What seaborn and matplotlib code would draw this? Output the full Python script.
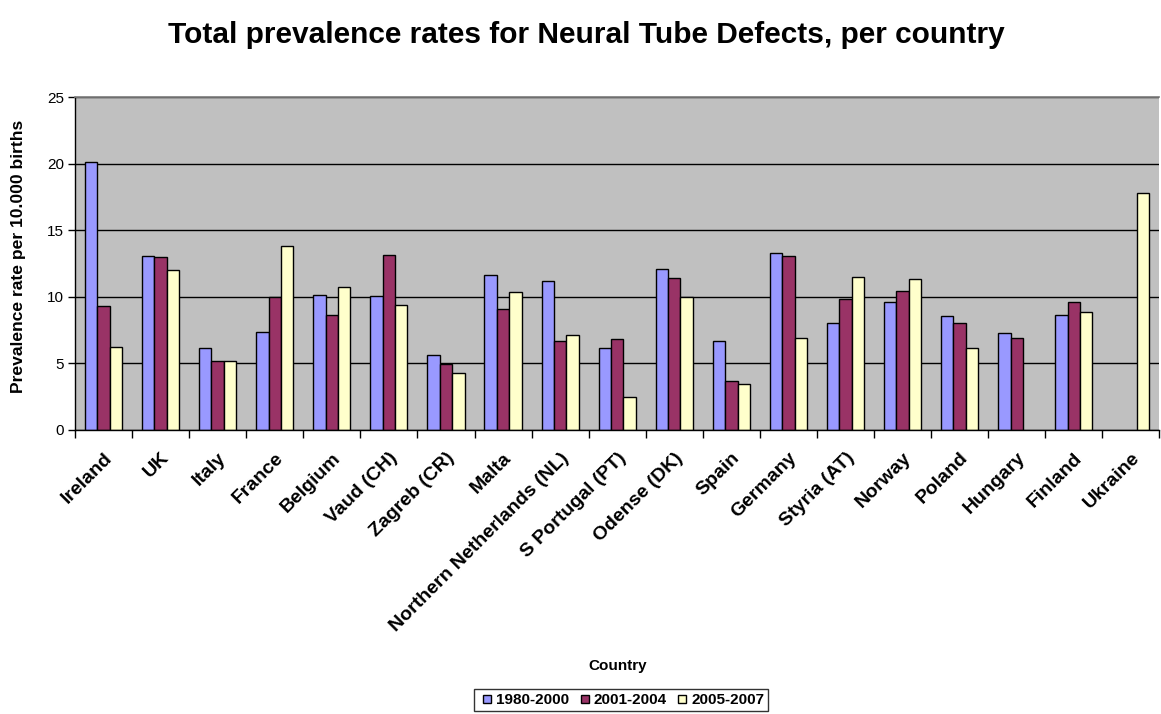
import numpy as np
import pandas as pd
import matplotlib
matplotlib.use("Agg")
import matplotlib.pyplot as plt
import seaborn as sns
from matplotlib.lines import Line2D

sns.set_theme(style="white")
plt.rcParams['font.family'] = ['Liberation Sans', 'DejaVu Sans']
plt.rcParams['text.color'] = 'black'
plt.rcParams['axes.labelcolor'] = 'black'
plt.rcParams['xtick.color'] = 'black'
plt.rcParams['ytick.color'] = 'black'

# Data
countries = ["Ireland", "UK", "Italy", "France", "Belgium", "Vaud (CH)", "Zagreb (CR)",
             "Malta", "Northern Netherlands (NL)", "S Portugal (PT)", "Odense (DK)", "Spain",
             "Germany", "Styria (AT)", "Norway", "Poland", "Hungary", "Finland", "Ukraine"]
periods = ["1980-2000", "2001-2004", "2005-2007"]
rate_1980_2000 = [20.1, 13.05, 6.15, 7.35, 10.15, 10.05, 5.6, 11.65, 11.2, 6.15, 12.1, 6.65,
                  13.3, 8.0, 9.6, 8.55, 7.25, 8.65, np.nan]
rate_2001_2004 = [9.3, 12.95, 5.2, 10.0, 8.65, 13.15, 4.95, 9.05, 6.7, 6.8, 11.4, 3.65,
                  13.05, 9.85, 10.45, 8.0, 6.9, 9.6, np.nan]
rate_2005_2007 = [6.25, 12.0, 5.2, 13.8, 10.75, 9.4, 4.3, 10.35, 7.15, 2.45, 9.95, 3.45,
                  6.9, 11.45, 11.3, 6.15, np.nan, 8.85, 17.8]
colors = ["#9999FF", "#993366", "#FFFFCC"]

df = pd.DataFrame({"Country": countries, periods[0]: rate_1980_2000,
                   periods[1]: rate_2001_2004, periods[2]: rate_2005_2007})
long = df.melt(id_vars="Country", var_name="Period", value_name="Rate").dropna()

fig = plt.figure(figsize=(11.61, 7.14), dpi=100)
ax = fig.add_axes([0.0646, 0.398, 0.934, 0.466])

sns.barplot(data=long, x="Country", y="Rate", hue="Period", order=countries,
            hue_order=periods, palette=colors, saturation=1, width=0.65,
            edgecolor="black", linewidth=1, errorbar=None, ax=ax, legend=False)

ax.set_facecolor("#C0C0C0")
ax.set_ylim(0, 25)
ax.set_xlim(-0.5, len(countries) - 0.5)
ax.set_yticks([0, 5, 10, 15, 20, 25])
ax.yaxis.grid(True, color="black", linewidth=1)
ax.set_axisbelow(True)
for s in ["left", "bottom"]:
    ax.spines[s].set_color("black")
    ax.spines[s].set_linewidth(1)
ax.spines["top"].set_color("#808080")
ax.spines["right"].set_visible(False)

ax.tick_params(axis="y", left=True, length=5, width=1, labelsize=11, pad=3)
ax.set_xticks(range(len(countries)))
ax.set_xticklabels(countries, rotation=45, ha="right", rotation_mode="anchor",
                   fontsize=14, fontweight="bold")
ax.tick_params(axis="x", bottom=False, pad=8)
ax.set_xticks(np.arange(-0.5, len(countries), 1.0), minor=True)
ax.tick_params(axis="x", which="minor", bottom=True, length=6, width=1)

ax.set_xlabel("Country", fontsize=11, fontweight="bold")
ax.xaxis.set_label_coords(0.5, -0.69)
ax.set_ylabel("Prevalence rate per 10.000 births", fontsize=12.6, fontweight="bold")
ax.yaxis.set_label_coords(-0.045, 0.52)

fig.suptitle("Total prevalence rates for Neural Tube Defects, per country",
             fontsize=21.5, fontweight="bold", x=0.505, y=0.97)

handles = [Line2D([0], [0], marker="s", linestyle="none", markerfacecolor=c,
                  markeredgecolor="black", markersize=6) for c in colors]
leg = fig.legend(handles, periods, loc="center", bbox_to_anchor=(0.535, 0.0195), ncol=3,
                 frameon=True, fancybox=False, handletextpad=0.0, columnspacing=0.4,
                 borderpad=0.25, handlelength=1.2, prop={"weight": "bold", "size": 11})
leg.get_frame().set_edgecolor("black")
leg.get_frame().set_linewidth(1)

fig.savefig("out.png", dpi=100)
